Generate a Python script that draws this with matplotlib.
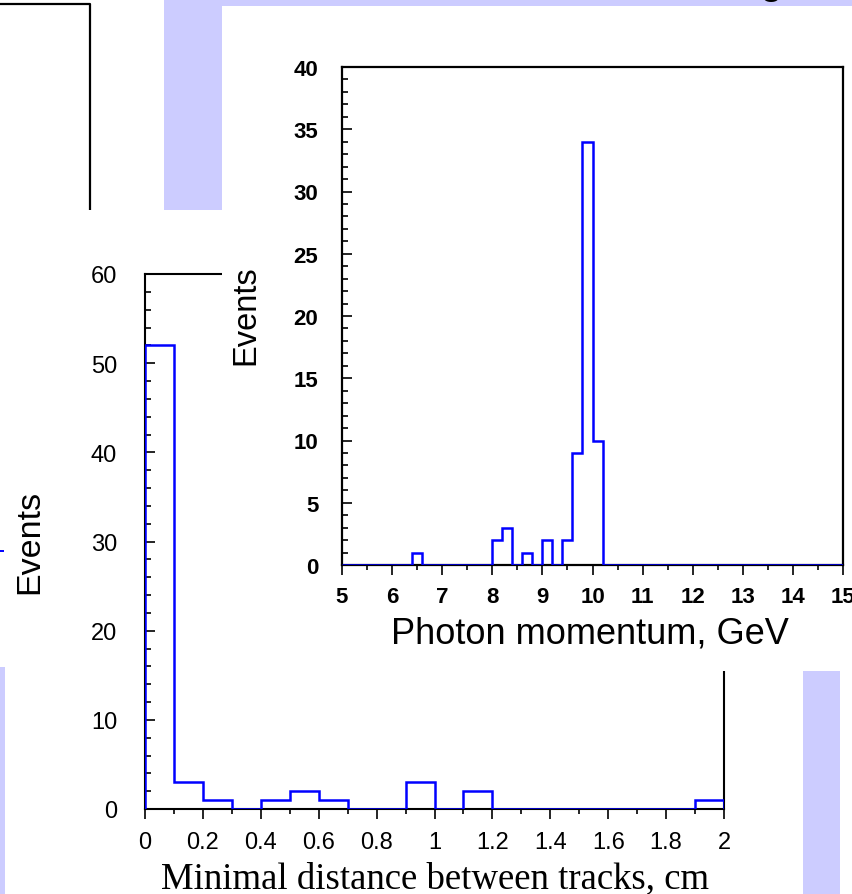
import numpy as np
import matplotlib
matplotlib.use("Agg")
import matplotlib.pyplot as plt
from matplotlib.patches import Rectangle
from matplotlib.lines import Line2D
from matplotlib.ticker import MultipleLocator, FuncFormatter

# ---- data -------------------------------------------------------------
# Minimal distance between tracks: 20 bins of 0.1 cm on [0, 2]
dist_range = (0.0, 2.0)
dist_counts = [52, 3, 1, 0, 1, 2, 1, 0, 0, 3,
               0, 2, 0, 0, 0, 0, 0, 0, 0, 1]

# Photon momentum: 50 bins of 0.2 GeV on [5, 15]
mom_range = (5.0, 15.0)
mom_counts = [0] * 50
mom_filled = {6.4: 1, 8.0: 2, 8.2: 3, 8.6: 1, 9.0: 2,
              9.4: 2, 9.6: 9, 9.8: 34, 10.0: 10}
for lo, n in mom_filled.items():
    mom_counts[int(round((lo - mom_range[0]) / 0.2))] = n

dist_ylim = (0, 60)
mom_ylim = (0, 40)

# ---- figure -----------------------------------------------------------
W, H = 852, 895
fig = plt.figure(figsize=(W / 100, H / 100), dpi=100)
fig.patch.set_facecolor("white")

LAV = "#ccccff"
BLUE = "#0000ff"


def fx(x):
    return x / W


def fy(y):
    return 1 - y / H


def box(x0, y0, x1, y1, color, z):
    fig.add_artist(Rectangle((fx(x0), fy(y1)), (x1 - x0) / W, (y1 - y0) / H,
                             transform=fig.transFigure, facecolor=color,
                             edgecolor="none", zorder=z))


def seg(xs, ys, color, lw, z):
    fig.add_artist(Line2D([fx(v) for v in xs], [fy(v) for v in ys],
                          transform=fig.transFigure, color=color, lw=lw,
                          solid_capstyle="butt", zorder=z))


# slide background decorations
box(164, 0, 852, 7, LAV, 0.1)
box(164, 0, 222, 211, LAV, 0.1)
box(0, 668, 5, 895, LAV, 0.1)
box(803, 672, 840, 895, LAV, 0.1)
seg([0, 90, 90], [5, 5, 211], "black", 1.6, 0.2)
seg([0, 4], [552, 552], BLUE, 1.4, 0.2)
fig.text(fx(771), fy(-7), "g", fontsize=30, family="Liberation Sans",
         ha="center", va="baseline", zorder=0.3)

# white panel behind the distance histogram
box(5, 211, 803, 895, "white", 1.0)

# ---- distance histogram ----------------------------------------------
ax1 = fig.add_axes([fx(145), fy(810), (724 - 145) / W, (810 - 275) / H])
ax1.set_zorder(2)
ax1.patch.set_visible(False)
edges1 = np.linspace(dist_range[0], dist_range[1], len(dist_counts) + 1)
ax1.stairs(dist_counts, edges1, baseline=0, color=BLUE, lw=1.8, zorder=3)
ax1.set_xlim(*dist_range)
ax1.set_ylim(*dist_ylim)
for s in ax1.spines.values():
    s.set_linewidth(1.5)
ax1.xaxis.set_major_locator(MultipleLocator(0.2))
ax1.xaxis.set_minor_locator(MultipleLocator(0.1))
ax1.yaxis.set_major_locator(MultipleLocator(10))
ax1.yaxis.set_minor_locator(MultipleLocator(2))
ax1.xaxis.set_major_formatter(FuncFormatter(lambda v, p: f"{v:g}"))
ax1.tick_params(axis="x", which="major", direction="out", length=7, width=1.2,
                pad=9, labelsize=17)
ax1.tick_params(axis="x", which="minor", direction="out", length=3.5, width=1.2)
ax1.tick_params(axis="y", which="major", direction="in", length=7, width=1.2,
                pad=20, labelsize=17)
ax1.tick_params(axis="y", which="minor", direction="in", length=4, width=1.2)
for lab in ax1.get_xticklabels() + ax1.get_yticklabels():
    lab.set_family("Liberation Sans")
ax1.set_xlabel("Minimal distance between tracks, cm", family="Liberation Serif",
               fontsize=26.5, va="baseline", ha="center")
ax1.xaxis.set_label_coords((435 - 145) / 579, (810 - 888) / 535)
ax1.set_ylabel("Events", family="Liberation Sans", fontsize=24.5,
               va="center", ha="center")
ax1.yaxis.set_label_coords((30 - 145) / 579, (810 - 542) / 535)

# white panel behind the photon momentum histogram
box(222, 7, 852, 672, "white", 3.0)

# ---- photon momentum histogram ---------------------------------------
ax2 = fig.add_axes([fx(342), fy(566), (843 - 342) / W, (566 - 68) / H])
ax2.set_zorder(4)
ax2.patch.set_visible(False)
edges2 = np.linspace(mom_range[0], mom_range[1], len(mom_counts) + 1)
ax2.stairs(mom_counts, edges2, baseline=0, color=BLUE, lw=1.8, zorder=3)
ax2.set_xlim(*mom_range)
ax2.set_ylim(*mom_ylim)
for s in ax2.spines.values():
    s.set_linewidth(1.6)
ax2.xaxis.set_major_locator(MultipleLocator(1))
ax2.xaxis.set_minor_locator(MultipleLocator(0.5))
ax2.yaxis.set_major_locator(MultipleLocator(5))
ax2.yaxis.set_minor_locator(MultipleLocator(1))
ax2.tick_params(axis="x", which="major", direction="out", length=7, width=1.2,
                pad=8, labelsize=16)
ax2.tick_params(axis="x", which="minor", direction="out", length=3.5, width=1.2)
ax2.tick_params(axis="y", which="major", direction="in", length=7, width=1.2,
                pad=17, labelsize=16)
ax2.tick_params(axis="y", which="minor", direction="in", length=4, width=1.2)
for lab in ax2.get_xticklabels() + ax2.get_yticklabels():
    lab.set_family("Liberation Sans")
    lab.set_weight("bold")
ax2.set_xlabel("Photon momentum, GeV", family="Liberation Sans", fontsize=26,
               va="baseline", ha="center")
ax2.xaxis.set_label_coords((590 - 342) / 501, (566 - 643) / 498)
ax2.set_ylabel("Events", family="Liberation Sans", fontsize=23.5,
               va="center", ha="center")
ax2.yaxis.set_label_coords((246 - 342) / 501, (566 - 315) / 498)

fig.savefig("out.png", dpi=100)
